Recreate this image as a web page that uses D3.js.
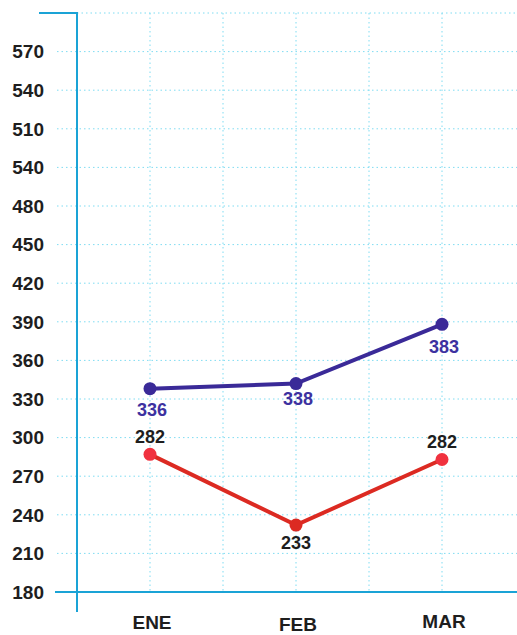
<!DOCTYPE html>
<html>
<head>
<meta charset="utf-8">
<script src="https://cdn.jsdelivr.net/npm/d3@7"></script>
<style>
  html, body { margin: 0; padding: 0; background: #fff; }
  svg { display: block; }
</style>
</head>
<body>
<div id="wrapper"></div>
<script>
// data
const months = ["ENE", "FEB", "MAR"];
const blueValues = [338, 342, 388];
const blueLabels = ["336", "338", "383"];
const redValues = [287, 232, 283];
const redLabels = ["282", "233", "282"];
const redDotColors = ["#f0323f", "#dc2a22", "#f0323f"];
// y tick labels as printed (bottom to top), the chart repeats "540"
const yTickValues = [180, 210, 240, 270, 300, 330, 360, 390, 420, 450, 480, 510, 540, 570, 600];
const yTickLabels = ["180", "210", "240", "270", "300", "330", "360", "390", "420", "450", "480", "540", "510", "540", "570"];

function drawChart() {
  const width = 517;
  const height = 635;

  const svg = d3.select("#wrapper")
    .append("svg")
    .attr("width", width)
    .attr("height", height);

  // scales: categories sit on index 0..2
  const xScale = d3.scaleLinear().domain([-0.5, 2.5]).range([77, 515]);
  const yScale = d3.scaleLinear().domain([180, 630]).range([592, 13]);

  const gridColor = "#7fdcf2";
  const axisColor = "#1aa3d6";

  // horizontal dotted grid
  svg.append("g")
    .selectAll("line")
    .data(yTickValues.concat([630]))
    .enter()
    .append("line")
    .attr("x1", (d) => d === 630 ? xScale(-0.5) : 57)
    .attr("x2", width)
    .attr("y1", (d) => yScale(d))
    .attr("y2", (d) => yScale(d))
    .attr("stroke", gridColor)
    .attr("stroke-width", 1)
    .attr("stroke-dasharray", "1.5,3");

  // vertical dotted grid
  const vGrid = [0, 0.5, 1, 1.5, 2];
  svg.append("g")
    .selectAll("line")
    .data(vGrid)
    .enter()
    .append("line")
    .attr("x1", (d) => xScale(d))
    .attr("x2", (d) => xScale(d))
    .attr("y1", yScale(630))
    .attr("y2", yScale(180))
    .attr("stroke", gridColor)
    .attr("stroke-width", 1)
    .attr("stroke-dasharray", "1.5,3");

  // axes lines
  svg.append("line")
    .attr("x1", 39).attr("x2", xScale(-0.5))
    .attr("y1", yScale(630)).attr("y2", yScale(630))
    .attr("stroke", axisColor).attr("stroke-width", 2);
  svg.append("line")
    .attr("x1", xScale(-0.5)).attr("x2", xScale(-0.5))
    .attr("y1", yScale(630) - 1).attr("y2", 612)
    .attr("stroke", axisColor).attr("stroke-width", 2);
  svg.append("line")
    .attr("x1", 55).attr("x2", width)
    .attr("y1", yScale(180)).attr("y2", yScale(180))
    .attr("stroke", axisColor).attr("stroke-width", 2);

  // y tick labels
  svg.append("g")
    .selectAll("text")
    .data(yTickValues)
    .enter()
    .append("text")
    .attr("x", 44)
    .attr("y", (d) => yScale(d))
    .attr("dy", "0.36em")
    .attr("text-anchor", "end")
    .style("font-family", "Liberation Sans, Arial, sans-serif")
    .style("font-weight", "bold")
    .style("font-size", "19px")
    .style("fill", "#1e1e1e")
    .text((d, i) => yTickLabels[i]);

  // month labels
  const monthDy = [0, 2, -1];
  svg.append("g")
    .selectAll("text")
    .data(months)
    .enter()
    .append("text")
    .attr("x", (d, i) => xScale(i) + 2)
    .attr("y", (d, i) => 629 + monthDy[i])
    .attr("text-anchor", "middle")
    .style("font-family", "Liberation Sans, Arial, sans-serif")
    .style("font-weight", "bold")
    .style("font-size", "19px")
    .style("fill", "#1e1e1e")
    .text((d) => d);

  const lineGenerator = d3.line()
    .x((d, i) => xScale(i))
    .y((d) => yScale(d));

  // red series
  svg.append("path")
    .attr("d", lineGenerator(redValues))
    .attr("fill", "none")
    .attr("stroke", "#dc2a22")
    .attr("stroke-width", 4);
  svg.append("g")
    .selectAll("circle")
    .data(redValues)
    .enter()
    .append("circle")
    .attr("cx", (d, i) => xScale(i))
    .attr("cy", (d) => yScale(d))
    .attr("r", 6.5)
    .attr("fill", (d, i) => redDotColors[i]);

  // blue series
  svg.append("path")
    .attr("d", lineGenerator(blueValues))
    .attr("fill", "none")
    .attr("stroke", "#3a2a98")
    .attr("stroke-width", 4);
  svg.append("g")
    .selectAll("circle")
    .data(blueValues)
    .enter()
    .append("circle")
    .attr("cx", (d, i) => xScale(i))
    .attr("cy", (d) => yScale(d))
    .attr("r", 6.5)
    .attr("fill", "#3a2a98");

  // value labels
  const blueOffset = [21, 15, 22];
  svg.append("g")
    .selectAll("text")
    .data(blueValues)
    .enter()
    .append("text")
    .attr("x", (d, i) => xScale(i) + 2)
    .attr("y", (d, i) => yScale(d) + blueOffset[i])
    .attr("dy", "0.36em")
    .attr("text-anchor", "middle")
    .style("font-family", "Liberation Sans, Arial, sans-serif")
    .style("font-weight", "bold")
    .style("font-size", "18px")
    .style("fill", "#3d31a0")
    .text((d, i) => blueLabels[i]);

  const redOffset = [-18, 17, -18];
  svg.append("g")
    .selectAll("text")
    .data(redValues)
    .enter()
    .append("text")
    .attr("x", (d, i) => xScale(i))
    .attr("y", (d, i) => yScale(d) + redOffset[i])
    .attr("dy", "0.36em")
    .attr("text-anchor", "middle")
    .style("font-family", "Liberation Sans, Arial, sans-serif")
    .style("font-weight", "bold")
    .style("font-size", "18px")
    .style("fill", "#1e1e1e")
    .text((d, i) => redLabels[i]);
}

drawChart();
</script>
</body>
</html>
